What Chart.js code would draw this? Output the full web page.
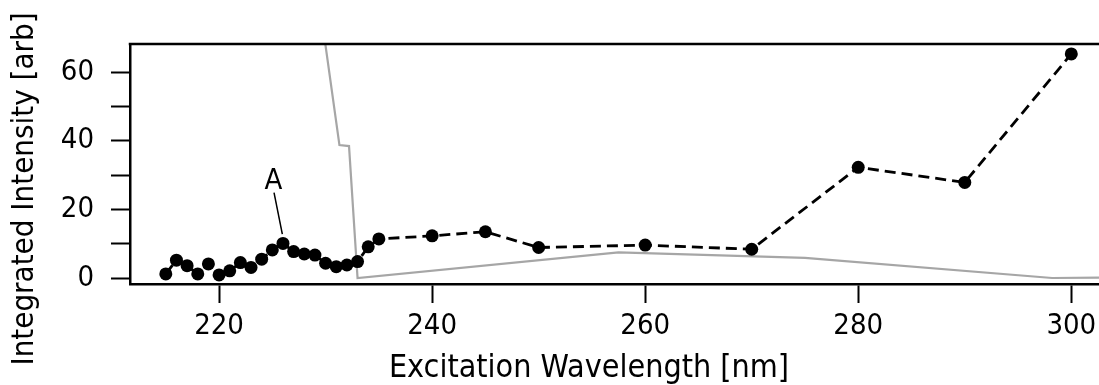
<!DOCTYPE html>
<html>
<head>
<meta charset="utf-8">
<script src="https://cdn.jsdelivr.net/npm/chart.js@4/dist/chart.umd.min.js"></script>
<style>
    html, body { margin: 0; padding: 0; background: #fff; }
    #wrap { width: 1099px; height: 385px; }
</style>
</head>
<body>
<div id="wrap"><canvas id="myChart" width="1099" height="385"></canvas></div>
<script>
// excitation scan, integrated emission intensity
const wavelength = [215, 216, 217, 218, 219, 220, 221, 222, 223, 224, 225, 226, 227, 228, 229, 230,
    231, 232, 233, 234, 235, 240, 245, 250, 260, 270, 280, 290, 300];
const intensity = [1.2, 5.2, 3.6, 1.2, 4.1, 0.9, 2.1, 4.5, 3.1, 5.5, 8.2, 10.1, 7.7, 7.0, 6.7, 4.3,
    3.3, 3.8, 4.8, 9.1, 11.4, 12.3, 13.5, 8.9, 9.6, 8.4, 32.3, 27.9, 65.4];

// grey reference trace
const refWavelength = [229, 231.3, 232.2, 233, 257.5, 275, 298.2, 303];
const refValue = [90, 38.8, 38.5, 0, 7.5, 5.9, 0, 0.1];

const xTicks = [220, 240, 260, 280, 300];
const yTicks = [0, 10, 20, 30, 40, 50, 60];
const yLabelled = [0, 20, 40, 60];

// peak marker "A": text position and leader line ends, in data units
const markText = 'A';
const markAt = [225.1, 28.1];
const markLine = [[225.16, 24.9], [225.94, 12.8]];

const FONT = "'DejaVu Sans Condensed', 'DejaVu Sans', sans-serif";

const toPoints = (xs, ys) => xs.map((x, i) => ({x: x, y: ys[i]}));

const extras = {
    id: 'extras',
    afterDatasetsDraw(chart) {
        const ctx = chart.ctx;
        const area = chart.chartArea;
        const x = chart.scales.x;
        const y = chart.scales.y;
        ctx.save();
        // top frame line
        ctx.strokeStyle = '#000';
        ctx.lineWidth = 2.5;
        ctx.beginPath();
        ctx.moveTo(area.left - 1.25, area.top);
        ctx.lineTo(area.right, area.top);
        ctx.stroke();
        // marker label
        ctx.lineWidth = 1.5;
        ctx.beginPath();
        ctx.moveTo(x.getPixelForValue(markLine[0][0]), y.getPixelForValue(markLine[0][1]));
        ctx.lineTo(x.getPixelForValue(markLine[1][0]), y.getPixelForValue(markLine[1][1]));
        ctx.stroke();
        ctx.fillStyle = '#000';
        ctx.font = '29px ' + FONT;
        ctx.textAlign = 'center';
        ctx.textBaseline = 'middle';
        ctx.fillText(markText, x.getPixelForValue(markAt[0]), y.getPixelForValue(markAt[1]));
        // axis titles
        ctx.font = '32px ' + FONT;
        ctx.fillText('Excitation Wavelength [nm]', 589, 369);
        ctx.font = '31px ' + FONT;
        ctx.translate(25, 189);
        ctx.rotate(-Math.PI / 2);
        ctx.fillText('Integrated Intensity [arb]', 0, 0);
        ctx.restore();
    }
};

const data = {
    datasets: [{
        label: 'Integrated Intensity',
        data: toPoints(wavelength, intensity),
        showLine: true,
        borderColor: '#000',
        backgroundColor: '#000',
        borderWidth: 2.8,
        borderDash: [11, 6],
        pointRadius: 6.5,
        pointBorderWidth: 0,
        order: 0
    }, {
        label: 'Reference',
        data: toPoints(refWavelength, refValue),
        showLine: true,
        borderColor: '#a6a6a6',
        borderWidth: 2.2,
        pointRadius: 0,
        clip: 0,
        order: 1
    }]
};

const tickFont = {family: FONT, size: 29};

const config = {
    type: 'scatter',
    data: data,
    options: {
        responsive: false,
        animation: false,
        events: [],
        layout: {autoPadding: false, padding: {top: 44, right: 0, left: 0, bottom: 0}},
        plugins: {legend: {display: false}, tooltip: {enabled: false}},
        scales: {
            x: {
                type: 'linear',
                min: 211.64,
                max: 302.6,
                afterBuildTicks: (scale) => { scale.ticks = xTicks.map(v => ({value: v})); },
                afterFit: (scale) => {
                    scale.height = 101;
                    scale.paddingLeft = 0;
                    scale.paddingRight = 0;
                },
                border: {display: true, color: '#000', width: 2.5},
                grid: {drawOnChartArea: false, drawTicks: true, tickLength: 19, tickColor: '#000', tickWidth: 2},
                ticks: {color: '#000', font: tickFont, padding: 6, maxRotation: 0}
            },
            y: {
                type: 'linear',
                min: -1.75,
                max: 68.3,
                afterBuildTicks: (scale) => { scale.ticks = yTicks.map(v => ({value: v})); },
                afterFit: (scale) => {
                    scale.width = 130;
                    scale.paddingTop = 0;
                    scale.paddingBottom = 0;
                },
                border: {display: true, color: '#000', width: 2.5},
                grid: {drawOnChartArea: false, drawTicks: true, tickLength: 19, tickColor: '#000', tickWidth: 2},
                ticks: {
                    color: '#000', font: tickFont, padding: 17,
                    callback: (v) => yLabelled.includes(v) ? String(v) : ''
                }
            }
        }
    },
    plugins: [extras]
};

var myChart = new Chart(document.getElementById('myChart'), config);
</script>
</body>
</html>
